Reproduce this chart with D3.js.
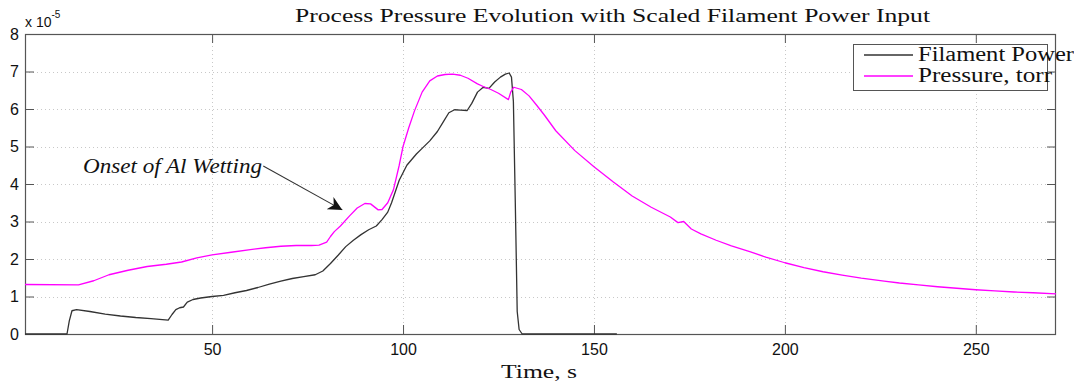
<!DOCTYPE html>
<html>
<head>
<meta charset="utf-8">
<script src="https://cdn.jsdelivr.net/npm/d3@7"></script>
<style>
  html, body { margin: 0; padding: 0; background: #fff; }
  svg { display: block; }
</style>
</head>
<body>
<svg id="chart" width="1074" height="383"></svg>
<script>
// ---------- data (pressure in units of 1e-5 torr) ----------
const pressureTime = [1, 15, 19, 23, 28, 33, 38, 42, 46, 50, 55, 60, 64, 68, 72, 76, 78, 80, 81, 82, 83.6, 86, 88, 90, 91.5, 93.5, 94.5, 96, 97.5, 99, 100, 101.5, 103, 105, 107, 109, 111, 113, 115, 117, 119.5, 121, 123, 125, 127.6, 128.2, 129, 131, 133, 135, 137, 140, 145, 150, 155, 160, 165, 170, 172, 173.5, 175.5, 178, 182, 186, 191, 195, 200, 205, 210, 215, 220, 226, 230, 235, 240, 245, 250, 255, 260, 265, 271];
const pressure = [1.32, 1.31, 1.42, 1.58, 1.70, 1.80, 1.86, 1.92, 2.03, 2.11, 2.18, 2.25, 2.30, 2.34, 2.36, 2.36, 2.37, 2.45, 2.60, 2.73, 2.88, 3.15, 3.36, 3.48, 3.47, 3.31, 3.32, 3.50, 3.85, 4.50, 5.00, 5.50, 5.95, 6.45, 6.75, 6.88, 6.92, 6.93, 6.90, 6.82, 6.67, 6.60, 6.52, 6.42, 6.25, 6.45, 6.58, 6.52, 6.35, 6.10, 5.84, 5.42, 4.89, 4.46, 4.06, 3.68, 3.38, 3.12, 2.97, 3.00, 2.80, 2.67, 2.50, 2.35, 2.19, 2.05, 1.90, 1.77, 1.66, 1.57, 1.49, 1.41, 1.36, 1.31, 1.26, 1.22, 1.18, 1.15, 1.12, 1.10, 1.07];

const filamentTime = [1, 12, 12.6, 13.3, 14.5, 18, 22, 26, 30, 34, 38.5, 39.5, 40.5, 41.5, 42.5, 43.5, 45, 47, 50, 53, 56, 59, 62, 65, 68, 71, 74, 77, 79, 81, 83, 85, 87, 89, 91, 93, 94.5, 96, 97, 98, 99, 100, 101, 102, 103.5, 105, 107, 109, 110.5, 112, 113.5, 115, 116.8, 118, 119.5, 121, 122.5, 124, 125.5, 126.8, 127.8, 128.4, 128.9, 129.4, 129.9, 130.4, 131.2, 156];
const filament = [0, 0, 0.35, 0.62, 0.65, 0.60, 0.53, 0.48, 0.44, 0.41, 0.37, 0.52, 0.65, 0.70, 0.72, 0.85, 0.92, 0.96, 1.00, 1.03, 1.10, 1.16, 1.24, 1.33, 1.41, 1.48, 1.53, 1.58, 1.68, 1.88, 2.10, 2.33, 2.50, 2.65, 2.78, 2.88, 3.05, 3.25, 3.50, 3.80, 4.10, 4.30, 4.50, 4.62, 4.80, 4.95, 5.15, 5.40, 5.65, 5.90, 5.98, 5.97, 5.96, 6.15, 6.45, 6.58, 6.55, 6.72, 6.85, 6.93, 6.96, 6.85, 6.20, 3.50, 0.60, 0.12, 0, 0];

const xTicks = [50, 100, 150, 200, 250];
const yTicks = [0, 1, 2, 3, 4, 5, 6, 7, 8];
const seriesNames = ["Filament Power", "Pressure, torr"];
const seriesColors = ["#333333", "#ff00ff"];
const titleText = "Process Pressure Evolution with Scaled Filament Power Input";
const xLabel = "Time, s";
const annotationText = "Onset of Al Wetting";
const annotationPos = [16.2, 4.29];      // text anchor (data coords)
const arrowFrom = [63.4, 4.48];          // data coords
const arrowTo = [84.1, 3.31];            // data coords

// ---------- layout ----------
const svg = d3.select("#chart");
const L = 25, R = 1056, T = 34, B = 334;
const x = d3.scaleLinear().domain([1, 271]).range([L, R]);
const y = d3.scaleLinear().domain([0, 8]).range([B, T]);

svg.append("rect").attr("width", 1074).attr("height", 383).attr("fill", "#fff");

// grid (dotted)
const grid = svg.append("g").attr("stroke", "#c8c8c8").attr("stroke-width", 1).attr("stroke-dasharray", "1,3");
grid.selectAll(".gx").data(xTicks).join("line")
  .attr("x1", d => Math.round(x(d)) + 0.5).attr("x2", d => Math.round(x(d)) + 0.5)
  .attr("y1", T).attr("y2", B);
grid.selectAll(".gy").data(yTicks.filter(d => d > 0 && d < 8)).join("line")
  .attr("y1", d => Math.round(y(d)) + 0.5).attr("y2", d => Math.round(y(d)) + 0.5)
  .attr("x1", L).attr("x2", R);

// axes with inside ticks
const tickLen = 9;
const axisColor = "#555";
const axB = svg.append("g").attr("transform", `translate(0,${B})`)
  .call(d3.axisBottom(x).tickValues(xTicks).tickSizeInner(-tickLen).tickSizeOuter(0).tickPadding(10));
const axT = svg.append("g").attr("transform", `translate(0,${T})`)
  .call(d3.axisTop(x).tickValues(xTicks).tickSizeInner(-tickLen).tickSizeOuter(0).tickFormat(""));
const axL = svg.append("g").attr("transform", `translate(${L},0)`)
  .call(d3.axisLeft(y).tickValues(yTicks).tickSizeInner(-tickLen).tickSizeOuter(0).tickPadding(6));
const axR = svg.append("g").attr("transform", `translate(${R},0)`)
  .call(d3.axisRight(y).tickValues(yTicks).tickSizeInner(-tickLen).tickSizeOuter(0).tickFormat(""));
[axB, axT, axL, axR].forEach(a => {
  a.select(".domain").remove();
  a.selectAll(".tick line").attr("stroke", axisColor);
  a.selectAll(".tick text").attr("fill", "#111")
    .style("font-family", "'Liberation Sans', Arial, sans-serif").style("font-size", "16px");
});
axB.selectAll(".tick text").attr("dy", "0.71em");

// box
svg.append("rect").attr("x", L + 0.5).attr("y", T + 0.5).attr("width", R - L - 1).attr("height", B - T)
  .attr("fill", "none").attr("stroke", axisColor).attr("stroke-width", 1.2);

// exponent label
const expo = svg.append("text").attr("x", L).attr("y", 27).attr("fill", "#111")
  .style("font-family", "'Liberation Sans', Arial, sans-serif").style("font-size", "14px");
expo.append("tspan").text("x 10");
expo.append("tspan").attr("dy", -9).style("font-size", "10px").text("-5");

// lines
const line = d3.line().x(d => x(d[0])).y(d => y(d[1]));
const filamentData = filamentTime.map((t, i) => [t, filament[i]]);
const pressureData = pressureTime.map((t, i) => [t, pressure[i]]);
svg.append("path").datum(filamentData).attr("d", line)
  .attr("fill", "none").attr("stroke", seriesColors[0]).attr("stroke-width", 1.3).attr("stroke-linejoin", "round");
svg.append("path").datum(pressureData).attr("d", line)
  .attr("fill", "none").attr("stroke", seriesColors[1]).attr("stroke-width", 1.3).attr("stroke-linejoin", "round");

// title and label
const serif = "'Liberation Serif', 'Times New Roman', serif";
svg.append("text").attr("x", 295).attr("y", 22).attr("textLength", 635).attr("lengthAdjust", "spacingAndGlyphs")
  .style("font-family", serif).style("font-size", "19px").attr("fill", "#111").text(titleText);
svg.append("text").attr("x", 501).attr("y", 378).attr("textLength", 76).attr("lengthAdjust", "spacingAndGlyphs")
  .style("font-family", serif).style("font-size", "19px").attr("fill", "#111").text(xLabel);

// legend
const lg = svg.append("g");
lg.append("rect").attr("x", 853.5).attr("y", 44.5).attr("width", 194).attr("height", 46)
  .attr("fill", "#fff").attr("stroke", axisColor).attr("stroke-width", 1);
const legY = [55, 76];
const legLen = [156, 134];
seriesNames.forEach((n, i) => {
  lg.append("line").attr("x1", 864).attr("x2", 913).attr("y1", legY[i]).attr("y2", legY[i])
    .attr("stroke", seriesColors[i]).attr("stroke-width", 1.3);
  lg.append("text").attr("x", 918).attr("y", legY[i] + 6).attr("textLength", legLen[i]).attr("lengthAdjust", "spacingAndGlyphs")
    .style("font-family", serif).style("font-size", "20px").attr("fill", "#111").text(n);
});

// annotation
svg.append("text").attr("x", x(annotationPos[0])).attr("y", y(annotationPos[1]))
  .attr("textLength", 179).attr("lengthAdjust", "spacingAndGlyphs")
  .style("font-family", serif).style("font-style", "italic").style("font-size", "21px").attr("fill", "#111")
  .text(annotationText);
svg.append("defs").append("marker").attr("id", "ah").attr("viewBox", "0 0 10 10")
  .attr("refX", 10).attr("refY", 5).attr("markerWidth", 18).attr("markerHeight", 14)
  .attr("markerUnits", "userSpaceOnUse").attr("orient", "auto")
  .append("path").attr("d", "M0,0 L10,5 L0,10 L3,5 Z").attr("fill", "#111");
svg.append("line").attr("x1", x(arrowFrom[0])).attr("y1", y(arrowFrom[1]))
  .attr("x2", x(arrowTo[0])).attr("y2", y(arrowTo[1]))
  .attr("stroke", "#333").attr("stroke-width", 1.1).attr("marker-end", "url(#ah)");
</script>
</body>
</html>
